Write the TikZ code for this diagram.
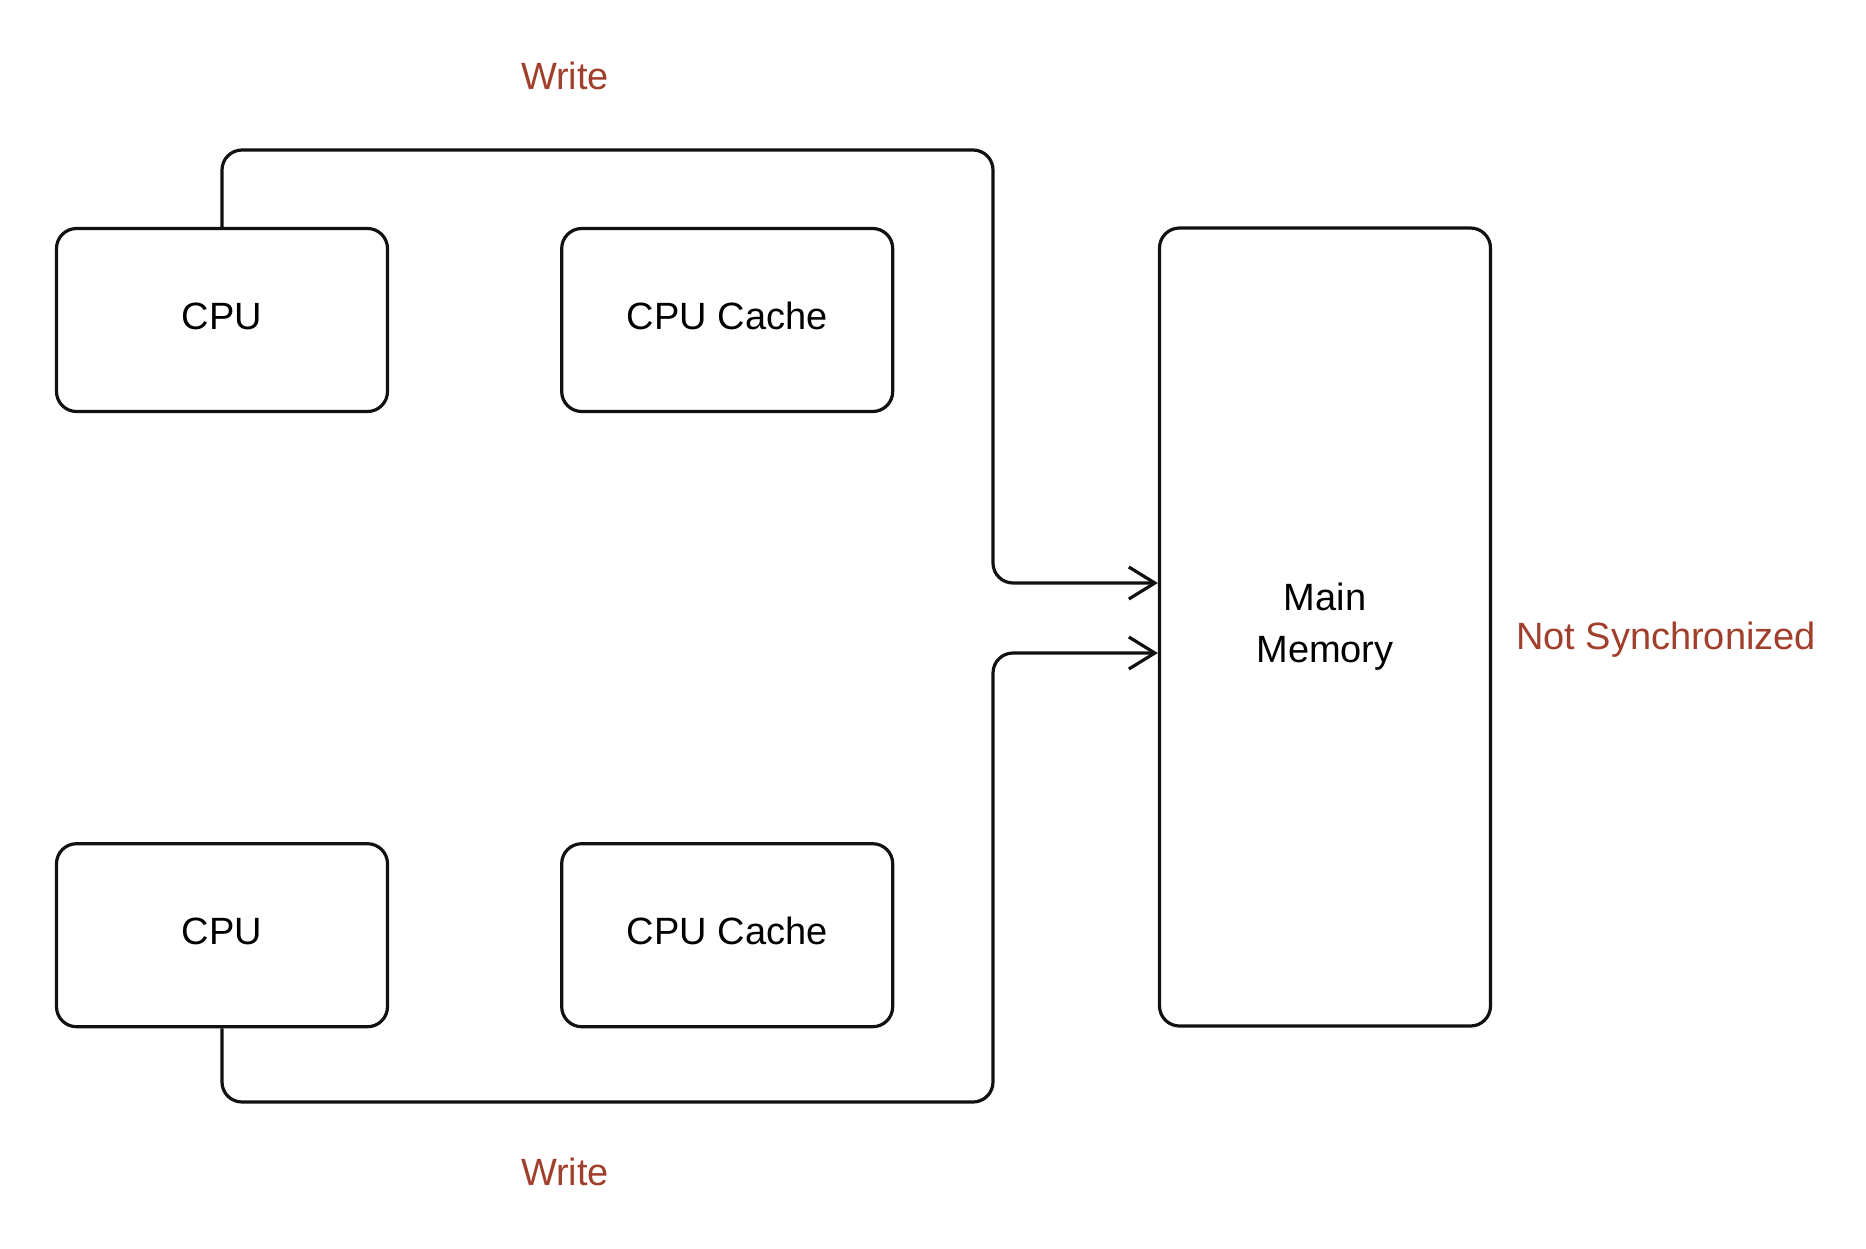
\documentclass[tikz,border=0pt]{standalone}
\usepackage{fontspec}
\setmainfont{Liberation Sans}
\usetikzlibrary{arrows.meta,positioning,calc}
\definecolor{Ink}{HTML}{111111}
\definecolor{Rust}{HTML}{A0402C}

\begin{document}
\begin{tikzpicture}[
  x=1pt, y=-1pt,
  box/.style={
    draw=Ink,
    line width=3.2pt,
    rounded corners=20pt,
    minimum width=331pt,
    minimum height=183pt,
    align=center,
    font=\fontsize{38}{52}\selectfont
  },
  unit/.style={
    box,
    text depth=8pt
  },
  memblock/.style={
    box,
    minimum height=798pt
  },
  note/.style={
    text=Rust,
    inner sep=0pt,
    font=\fontsize{38}{46}\selectfont
  },
  wire/.style={
    line width=3.2pt,
    color=Ink,
    rounded corners=20pt,
    -{Straight Barb[length=26pt,width=32pt,line width=3.2pt]}
  }
]
\useasboundingbox (0,0) rectangle (1866,1248);

\node[unit] (cpu1) at (222,320) {CPU};
\node[unit,right=171pt of cpu1] (cache1) {CPU Cache};
\node[unit,below=429pt of cpu1] (cpu2) {CPU};
\node[unit,right=171pt of cpu2] (cache2) {CPU Cache};
\node[memblock] (mem) at (1325,627) {Main\\Memory};

\node[note] (write1) at (565,76) {Write};
\node[note] (write2) at (565,1172) {Write};
\node[note] (nosync) at (1666,640) {Not Synchronized};

% turning points of the two write paths
\coordinate (topturn) at (993,150);
\coordinate (botturn) at (993,1102);
\coordinate (in1) at ($(mem.west)+(0,-44)$);
\coordinate (in2) at ($(mem.west)+(0,26)$);

\draw[wire] (cpu1.north) |- (topturn) |- (in1);
\draw[wire] (cpu2.south) |- (botturn) |- (in2);
\end{tikzpicture}
\end{document}
